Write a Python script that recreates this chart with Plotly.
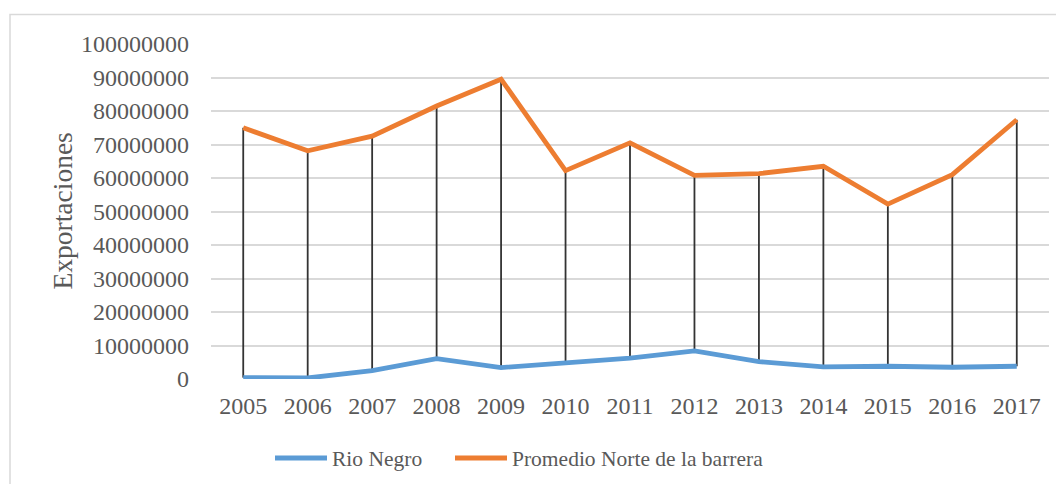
import plotly.graph_objects as go

years = ["2005", "2006", "2007", "2008", "2009", "2010", "2011", "2012", "2013", "2014", "2015", "2016", "2017"]
rio_negro = [400000, 300000, 2500000, 6100000, 3400000, 4700000, 6200000, 8400000, 5200000, 3600000, 3800000, 3500000, 3800000]
promedio_norte = [75000000, 68100000, 72500000, 81500000, 89500000, 62200000, 70500000, 60800000, 61300000, 63500000, 52200000, 61000000, 77400000]
y_ticks = [0, 10000000, 20000000, 30000000, 40000000, 50000000, 60000000, 70000000, 80000000, 90000000, 100000000]

# the page body adds an 8px offset; figure is sized to fill the rest of the window
OFF = 8
W, H = 1064 - OFF, 484 - OFF
L, R, T, B = 211 - OFF, 15, 44 - OFF, 105
pw, ph = W - L - R, H - T - B

FONT = "Liberation Serif, Times New Roman, serif"
GREY = "#595959"

# high-low drop lines built from the two series
drop_x, drop_y = [], []
for yr, lo, hi in zip(years, rio_negro, promedio_norte):
    drop_x += [yr, yr, None]
    drop_y += [lo, hi, None]

fig = go.Figure()
fig.add_trace(go.Scatter(x=drop_x, y=drop_y, mode="lines", showlegend=False,
                         line=dict(color="#333333", width=1.8), hoverinfo="skip"))
fig.add_trace(go.Scatter(x=years, y=rio_negro, mode="lines", name="Rio Negro",
                         line=dict(color="#5B9BD5", width=4.8), legend="legend"))
fig.add_trace(go.Scatter(x=years, y=promedio_norte, mode="lines", name="Promedio Norte de la barrera",
                         line=dict(color="#ED7D31", width=4.8), legend="legend2"))

leg_common = dict(orientation="h", xref="container", yref="container", xanchor="left",
                  y=1 - (458 - OFF) / H, yanchor="middle",
                  font=dict(family=FONT, size=21.5, color=GREY),
                  itemwidth=52, bgcolor="rgba(0,0,0,0)")

fig.update_layout(
    width=W, height=H,
    margin=dict(l=L, r=R, t=T, b=B, autoexpand=False),
    paper_bgcolor="white", plot_bgcolor="white",
    font=dict(family=FONT, size=24, color=GREY),
    showlegend=True,
    legend=dict(x=(270 - OFF) / W, **leg_common),
    legend2=dict(x=(450 - OFF) / W, **leg_common),
    xaxis=dict(type="category", categoryorder="array", categoryarray=years,
               range=[-0.5, 12.5], showgrid=False, zeroline=False, showline=False,
               ticks="", tickfont=dict(family=FONT, size=24, color=GREY),
               ticklabelstandoff=10),
    yaxis=dict(range=[0, 100000000], tickvals=y_ticks, ticktext=[str(v) for v in y_ticks],
               showgrid=True, gridcolor="#d9d9d9", gridwidth=1.5, zeroline=False,
               showline=False, ticks="", tickfont=dict(family=FONT, size=24, color=GREY),
               ticklabelstandoff=21),
    annotations=[dict(text="Exportaciones", textangle=-90, xref="paper", yref="paper",
                      x=(62 - 211) / pw, y=0.5, xanchor="center", yanchor="middle",
                      showarrow=False, font=dict(family=FONT, size=27.5, color=GREY))],
    shapes=[dict(type="rect", xref="paper", yref="paper",
                 x0=(10 - 211) / pw, x1=(1080 - 211) / pw,
                 y0=-(500 - 379) / ph, y1=(379 - 14.5) / ph,
                 line=dict(color="#d9d9d9", width=1.5), fillcolor="rgba(0,0,0,0)", layer="above")],
)

fig.write_html("out.html")
